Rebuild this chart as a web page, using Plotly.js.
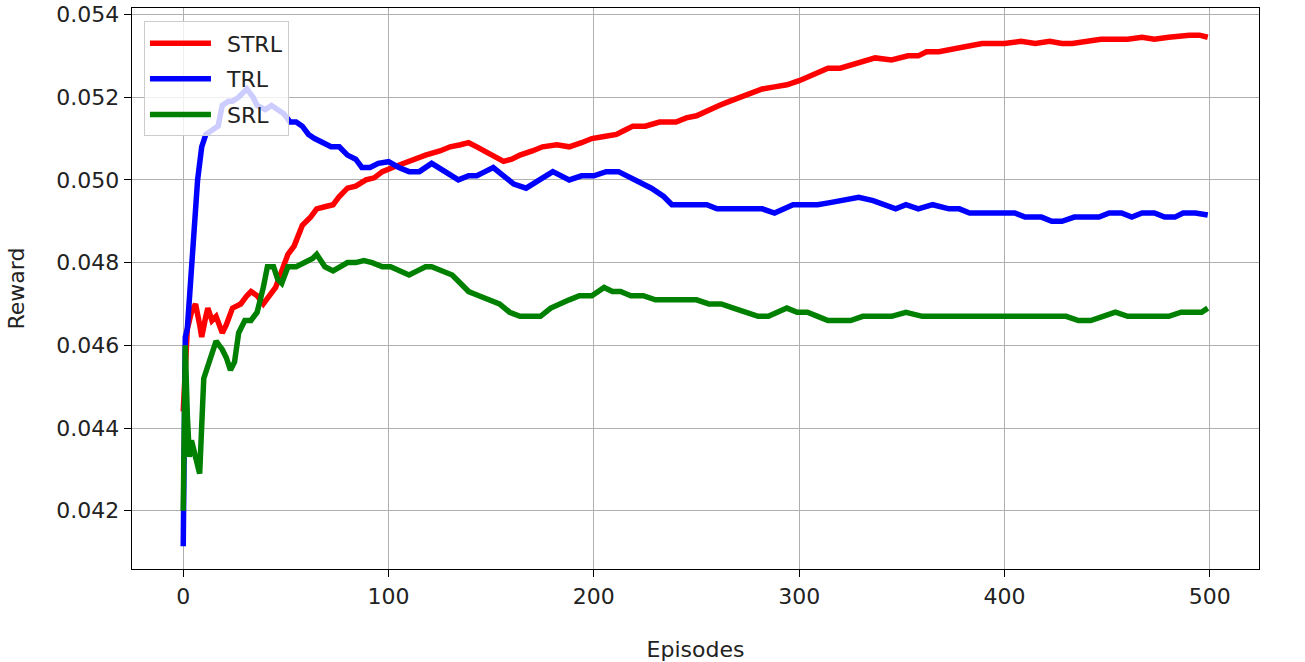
<!DOCTYPE html>
<html>
<head>
<meta charset="utf-8">
<script src="https://cdn.plot.ly/plotly-3.0.1.min.js"></script>
<style>
  html, body { margin: 0; padding: 0; background: #fff; }
  #graph { width: 1305px; height: 662px; }
</style>
</head>
<body>
<div id="graph"></div>
<script>
// valores (episodio, recompensa)
const strlEp = [0, 1, 2, 4, 6, 8, 9, 11, 12, 14, 16, 19, 21, 24, 28, 31, 33, 36, 39, 42, 45, 48, 51, 54, 58, 62, 65, 69, 73, 76, 80, 84, 89, 93, 97, 102, 107, 112, 118, 125, 130, 135, 139, 143, 147, 151, 156, 160, 164, 170, 175, 182, 188, 194, 199, 205, 211, 215, 219, 225, 232, 240, 245, 250, 256, 261, 266, 271, 276, 282, 288, 294, 300, 305, 310, 314, 320, 326, 332, 337, 345, 353, 358, 362, 368, 373, 380, 389, 395, 400, 408, 415, 422, 428, 433, 440, 447, 454, 460, 467, 473, 480, 486, 490, 495, 499];
const strlVal = [0.0444, 0.0455, 0.0464, 0.0468, 0.0470, 0.0465, 0.0462, 0.0467, 0.0469, 0.0466, 0.0467, 0.0463, 0.0465, 0.0469, 0.0470, 0.0472, 0.0473, 0.0472, 0.0470, 0.0472, 0.0474, 0.0478, 0.0482, 0.0484, 0.0489, 0.0491, 0.0493, 0.04935, 0.0494, 0.0496, 0.0498, 0.04985, 0.0500, 0.05005, 0.0502, 0.0503, 0.0504, 0.0505, 0.0506, 0.0507, 0.0508, 0.05085, 0.0509, 0.0508, 0.0507, 0.0506, 0.05045, 0.0505, 0.0506, 0.0507, 0.0508, 0.05085, 0.0508, 0.0509, 0.0510, 0.05105, 0.0511, 0.0512, 0.0513, 0.0513, 0.0514, 0.0514, 0.0515, 0.05155, 0.0517, 0.0518, 0.0519, 0.0520, 0.0521, 0.0522, 0.05225, 0.0523, 0.0524, 0.0525, 0.0526, 0.0527, 0.0527, 0.0528, 0.0529, 0.05295, 0.0529, 0.0530, 0.0530, 0.0531, 0.0531, 0.05315, 0.0532, 0.0533, 0.0533, 0.0533, 0.05335, 0.0533, 0.05335, 0.0533, 0.0533, 0.05335, 0.0534, 0.0534, 0.0534, 0.05345, 0.0534, 0.05345, 0.0535, 0.0535, 0.0535, 0.05345];

const trlEp = [0, 1, 2, 4, 6, 7, 9, 11, 14, 17, 19, 22, 24, 27, 31, 34, 36, 40, 43, 46, 49, 52, 55, 58, 61, 64, 68, 72, 76, 80, 84, 87, 91, 95, 100, 105, 110, 115, 121, 127, 134, 139, 143, 147, 151, 156, 161, 167, 173, 180, 188, 194, 200, 206, 212, 216, 220, 228, 234, 238, 245, 250, 255, 260, 265, 270, 274, 278, 282, 288, 292, 297, 303, 309, 315, 321, 329, 336, 342, 347, 352, 358, 365, 373, 378, 383, 392, 400, 405, 410, 418, 423, 428, 434, 440, 446, 451, 457, 462, 467, 473, 478, 483, 487, 493, 499];
const trlVal = [0.04114, 0.0462, 0.0464, 0.0480, 0.0492, 0.0500, 0.0508, 0.0511, 0.0512, 0.0513, 0.0518, 0.0519, 0.0519, 0.0520, 0.0522, 0.0520, 0.0518, 0.0517, 0.0518, 0.0517, 0.0516, 0.0514, 0.0514, 0.0513, 0.0511, 0.0510, 0.0509, 0.0508, 0.0508, 0.0506, 0.0505, 0.0503, 0.0503, 0.0504, 0.05044, 0.0503, 0.0502, 0.0502, 0.0504, 0.0502, 0.0500, 0.0501, 0.0501, 0.0502, 0.0503, 0.0501, 0.0499, 0.0498, 0.0500, 0.0502, 0.0500, 0.0501, 0.0501, 0.0502, 0.0502, 0.0501, 0.0500, 0.0498, 0.0496, 0.0494, 0.0494, 0.0494, 0.0494, 0.0493, 0.0493, 0.0493, 0.0493, 0.0493, 0.0493, 0.0492, 0.0493, 0.0494, 0.0494, 0.0494, 0.04945, 0.0495, 0.04958, 0.0495, 0.0494, 0.0493, 0.0494, 0.0493, 0.0494, 0.0493, 0.0493, 0.0492, 0.0492, 0.0492, 0.0492, 0.0491, 0.0491, 0.0490, 0.0490, 0.0491, 0.0491, 0.0491, 0.0492, 0.0492, 0.0491, 0.0492, 0.0492, 0.0491, 0.0491, 0.0492, 0.0492, 0.04915];

const srlEp = [0, 1, 2, 3, 4, 6, 8, 10, 12, 14, 16, 19, 21, 23, 25, 27, 30, 33, 36, 39, 41, 44, 46, 48, 51, 55, 59, 63, 65, 69, 73, 77, 80, 84, 88, 92, 97, 101, 105, 110, 114, 118, 121, 126, 131, 135, 139, 144, 149, 154, 159, 164, 169, 174, 179, 183, 188, 193, 199, 205, 209, 213, 218, 224, 230, 236, 244, 250, 256, 262, 268, 274, 280, 285, 290, 294, 299, 304, 309, 314, 318, 325, 331, 338, 345, 352, 360, 366, 374, 382, 390, 398, 406, 414, 422, 430, 436, 442, 448, 454, 460, 467, 473, 480, 486, 492, 496, 499];
const srlVal = [0.0420, 0.0460, 0.0443, 0.0433, 0.0437, 0.0433, 0.0429, 0.0452, 0.0455, 0.0458, 0.0461, 0.0459, 0.0457, 0.0454, 0.0456, 0.0463, 0.0466, 0.0466, 0.0468, 0.0474, 0.0479, 0.0479, 0.0476, 0.0475, 0.0479, 0.0479, 0.0480, 0.0481, 0.0482, 0.0479, 0.0478, 0.0479, 0.0480, 0.0480, 0.04805, 0.0480, 0.0479, 0.0479, 0.0478, 0.0477, 0.0478, 0.0479, 0.0479, 0.0478, 0.0477, 0.0475, 0.0473, 0.0472, 0.0471, 0.0470, 0.0468, 0.0467, 0.0467, 0.0467, 0.0469, 0.0470, 0.0471, 0.0472, 0.0472, 0.0474, 0.0473, 0.0473, 0.0472, 0.0472, 0.0471, 0.0471, 0.0471, 0.0471, 0.0470, 0.0470, 0.0469, 0.0468, 0.0467, 0.0467, 0.0468, 0.0469, 0.0468, 0.0468, 0.0467, 0.0466, 0.0466, 0.0466, 0.0467, 0.0467, 0.0467, 0.0468, 0.0467, 0.0467, 0.0467, 0.0467, 0.0467, 0.0467, 0.0467, 0.0467, 0.0467, 0.0467, 0.0466, 0.0466, 0.0467, 0.0468, 0.0467, 0.0467, 0.0467, 0.0467, 0.0468, 0.0468, 0.0468, 0.0469];

const seriesNames = ['STRL', 'TRL', 'SRL'];
const seriesColors = ['red', 'blue', 'green'];

const xs = [strlEp, trlEp, srlEp];
const ys = [strlVal, trlVal, srlVal];

const traces = seriesNames.map((name, i) => ({
    x: xs[i],
    y: ys[i],
    mode: 'lines',
    type: 'scatter',
    name: '\u2002' + name,
    legendgroup: name,
    line: { color: seriesColors[i], width: 5.5 }
}));

const font = { family: 'DejaVu Sans, sans-serif', size: 22, color: '#222' };

const layout = {
    width: 1305,
    height: 662,
    margin: { l: 132, r: 46, t: 8, b: 93 },
    paper_bgcolor: 'white',
    plot_bgcolor: 'white',
    font: font,
    showlegend: true,
    legend: {
        x: 0.0106, y: 0.976, xanchor: 'left', yanchor: 'top',
        bgcolor: 'rgba(255,255,255,0.8)',
        bordercolor: '#cccccc', borderwidth: 1,
        font: font,
        tracegroupgap: 4,
        itemwidth: 61
    },
    xaxis: {
        title: { text: 'Episodes', font: font, standoff: 35 },
        range: [-24.95, 523.95],
        tickvals: [0, 100, 200, 300, 400, 500],
        ticks: 'outside', ticklen: 7, tickcolor: '#000',
        showline: true, linecolor: '#000', linewidth: 1.3, mirror: true,
        showgrid: true, gridcolor: '#b0b0b0', gridwidth: 1,
        zeroline: false, automargin: false
    },
    yaxis: {
        title: { text: 'Reward', font: font, standoff: 25 },
        range: [0.040591, 0.054157],
        tickvals: [0.042, 0.044, 0.046, 0.048, 0.050, 0.052, 0.054],
        tickformat: '.3f',
        ticks: 'outside', ticklen: 7, tickcolor: '#000',
        showline: true, linecolor: '#000', linewidth: 1.3, mirror: true,
        showgrid: true, gridcolor: '#b0b0b0', gridwidth: 1,
        zeroline: false, automargin: false
    }
};

Plotly.newPlot('graph', traces, layout, { staticPlot: true });
</script>
</body>
</html>
